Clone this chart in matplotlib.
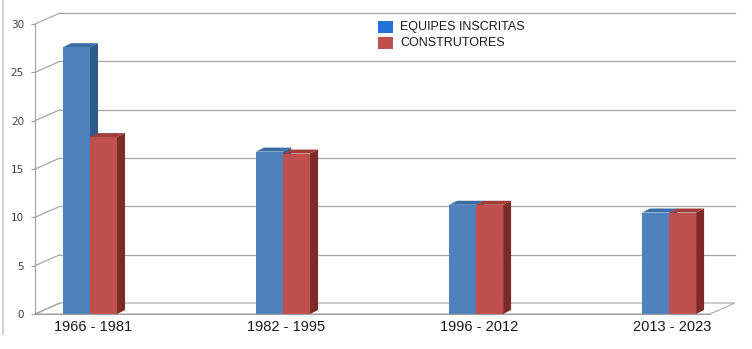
import matplotlib
matplotlib.use("Agg")
import matplotlib.pyplot as plt
from matplotlib.patches import Polygon, Rectangle
from matplotlib.transforms import IdentityTransform
import numpy as np

categories = ["1966 - 1981", "1982 - 1995", "1996 - 2012", "2013 - 2023"]
equipes = [27.6, 16.8, 11.3, 10.5]
construtores = [18.3, 16.6, 11.3, 10.5]
series_names = ["EQUIPES INSCRITAS", "CONSTRUTORES"]
yticks = [0, 5, 10, 15, 20, 25, 30]

W, H = 752, 349
fig = plt.figure(figsize=(W / 100, H / 100), dpi=100)
fig.patch.set_facecolor("white")
# left frame edge of the chart area
fig.add_artist(plt.Line2D([3 / W, 3 / W], [(H - 334) / H, 1.0], transform=fig.transFigure,
                          color="#C8C8C8", linewidth=1.2))

ax = fig.add_axes([35 / W, (H - 314) / H, 675 / W, 290 / H])
ax.set_ylim(0, 30)
ax.set_xlim(-0.285, 3.212)
ax.patch.set_alpha(0)
for s in ["top", "right"]:
    ax.spines[s].set_visible(False)
ax.spines["left"].set_color("#A0A0A0")
ax.spines["bottom"].set_color("#A0A0A0")

fig.canvas.draw()
tD = ax.transData
DX, DY = 25, 11  # depth offset of back wall in pixels
grid_c = "#A6A6A6"
x0, x1 = ax.get_xlim()

def disp(x, y):
    return tD.transform((x, y))

# floor
p0 = disp(x0, 0); p1 = disp(x1, 0)
floor = Polygon([p0, p1, p1 + [DX, DY], p0 + [DX, DY]], closed=True, transform=IdentityTransform(),
                facecolor="white", edgecolor="#B0B0B0", linewidth=0.9, zorder=1, clip_on=False)
ax.add_patch(floor)

# gridlines on back wall + side-wall diagonals
for v in yticks:
    a = disp(x0, v); b = disp(x1, v)
    if v > 0:
        ax.add_line(plt.Line2D([a[0] + DX, b[0] + DX], [a[1] + DY, b[1] + DY], transform=IdentityTransform(),
                               color=grid_c, linewidth=0.9, zorder=1, clip_on=False))
    ax.add_line(plt.Line2D([a[0], a[0] + DX], [a[1], a[1] + DY], transform=IdentityTransform(),
                           color=grid_c, linewidth=0.9, zorder=1, clip_on=False))

x = np.arange(len(categories))
w = 0.14
bdx, bdy = 8, 4
styles = [("#4F81BD", "#2F5B8E", "#3C6CA6"), ("#C0504D", "#7E2A28", "#A03E3B")]
for i, (vals, off) in enumerate([(equipes, -w / 2), (construtores, w / 2)]):
    front_c, side_c, top_c = styles[i]
    ax.bar(x + off, vals, width=w, color=front_c, edgecolor="none", zorder=5 + 2 * i)
    for xi, v in zip(x + off, vals):
        bl = disp(xi - w / 2, 0); br = disp(xi + w / 2, 0)
        tl = disp(xi - w / 2, v); tr = disp(xi + w / 2, v)
        side = Polygon([br, tr, tr + [bdx, bdy], br + [bdx, bdy]], closed=True, transform=IdentityTransform(),
                       facecolor=side_c, edgecolor="none", zorder=4 + 2 * i, clip_on=False)
        top = Polygon([tl, tr, tr + [bdx, bdy], tl + [bdx, bdy]], closed=True, transform=IdentityTransform(),
                      facecolor=top_c, edgecolor="none", zorder=4 + 2 * i, clip_on=False)
        ax.add_patch(side); ax.add_patch(top)

ax.set_yticks(yticks)
ax.set_yticklabels([str(t) for t in yticks], fontsize=7.5, color="#404040")
ax.tick_params(axis="y", length=3, color="#A0A0A0", pad=5)
ax.set_xticks(x + 0.015)
ax.set_xticklabels(categories, fontsize=10.5, family="Liberation Sans", color="#1A1A1A")
ax.tick_params(axis="x", length=0, pad=4.5)

# legend
leg_cols = ["#2471D8", "#C0504D"]
for j, (name, c) in enumerate(zip(series_names, leg_cols)):
    yy = H - (27 + 16 * j)
    fig.patches.append(Rectangle((378 / W, (yy - 6) / H), 15 / W, 12 / H, transform=fig.transFigure,
                                 facecolor=c, edgecolor="none"))
    fig.text(400 / W, yy / H, name, fontsize=9, family="Liberation Sans", va="center", ha="left", color="#1A1A1A")

fig.savefig("out.png", dpi=100)
